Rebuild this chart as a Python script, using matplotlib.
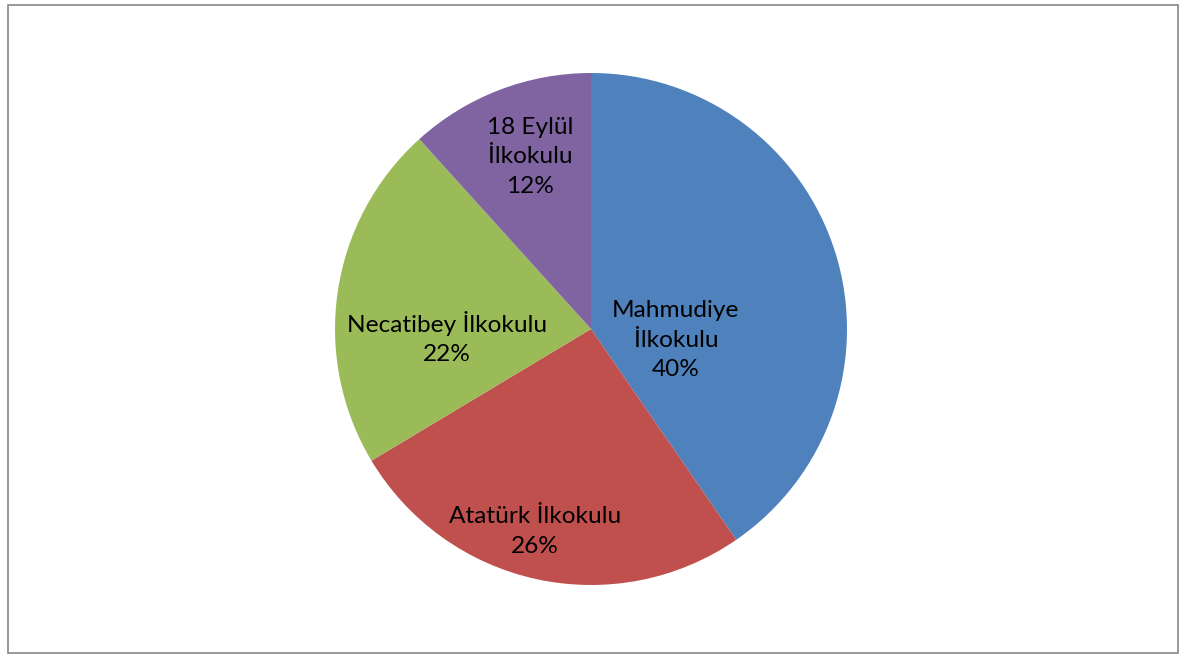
import matplotlib
matplotlib.use("Agg")
import matplotlib.pyplot as plt
from matplotlib.patches import Rectangle

# Data
categories = ["Mahmudiye\nİlkokulu", "Atatürk İlkokulu", "Necatibey İlkokulu", "18 Eylül\nİlkokulu"]
values = [40.4, 26.0, 21.9, 11.7]
colors = ["#4F81BD", "#C0504D", "#9BBB59", "#8064A2"]
# label placement (in pie-radius units, relative to centre)
label_pos = [(0.332, -0.043), (-0.22, -0.79), (-0.5625, -0.035), (-0.238, 0.672)]

W, H, DPI = 1188, 657, 100
fig = plt.figure(figsize=(W / DPI, H / DPI), dpi=DPI)
fig.patch.set_facecolor("white")

# chart border
fig.add_artist(Rectangle((7.5 / W, 4.5 / H), (1177.5 - 7.5) / W, (652.5 - 4.5) / H,
                         transform=fig.transFigure, fill=False,
                         edgecolor="#868686", linewidth=1.2))

cx, cy, r = 591, 329, 256
ax = fig.add_axes([(cx - r) / W, (H - cy - r) / H, 2 * r / W, 2 * r / H])
wedges, _ = ax.pie(values, colors=colors, startangle=90, counterclock=False,
                   radius=1.0, wedgeprops=dict(linewidth=0))
ax.set_xlim(-1, 1)
ax.set_ylim(-1, 1)
ax.axis("off")

total = sum(values)
for cat, v, (x, y) in zip(categories, values, label_pos):
    ax.text(x, y, f"{cat}\n{round(v / total * 100):d}%", ha="center", va="center",
            fontsize=17.6, family=["Lato", "DejaVu Sans"], color="#000000",
            linespacing=1.52)

fig.savefig("out.png", dpi=DPI)
